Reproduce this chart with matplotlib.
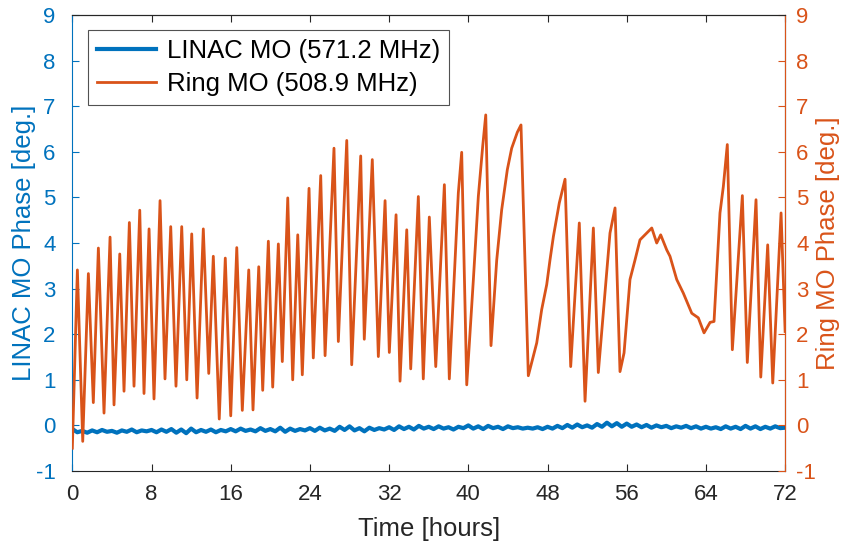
import matplotlib
matplotlib.use("Agg")
import matplotlib.pyplot as plt
import numpy as np

# ---- data ----
ring_t = [0.0, 0.51, 1.05, 1.62, 2.12, 2.63, 3.20, 3.81, 4.21, 4.79, 5.22, 5.76, 6.23, 6.81, 7.24,
          7.75, 8.25, 8.86, 9.36, 9.94, 10.47, 11.05, 11.56, 12.06, 12.60, 13.23, 13.78, 14.24,
          14.84, 15.45, 16.0, 16.61, 17.17, 17.82, 18.25, 18.83, 19.23, 19.80, 20.24, 20.81,
          21.21, 21.76, 22.26, 22.77, 23.23, 23.91, 24.34, 25.09, 25.53, 26.43, 26.87, 27.72,
          28.22, 29.13, 29.49, 30.30, 30.91, 31.59, 32.02, 32.70, 33.10, 33.78, 34.18, 34.95,
          35.45, 36.06, 36.71, 37.58, 38.08, 38.99, 39.33, 39.84, 40.51, 41.01, 41.45, 41.76,
          42.29, 42.87, 43.37, 43.94, 44.38, 44.95, 45.32, 46.06, 46.91, 47.41, 47.92, 48.25,
          48.59, 49.19, 49.77, 50.34, 51.21, 51.79, 52.63, 53.13, 54.31, 54.82, 55.32, 55.73,
          56.33, 56.84, 57.34, 58.02, 58.53, 59.03, 59.43, 60.04, 60.37, 61.05, 61.72, 62.57,
          63.23, 63.81, 64.42, 64.82, 65.42, 65.76, 66.16, 66.67, 67.68, 68.18, 69.06, 69.54,
          70.24, 70.75, 71.59, 72.0]
ring_v = [-0.50, 3.41, -0.35, 3.33, 0.50, 3.89, 0.27, 4.13, 0.45, 3.76, 0.75, 4.45, 0.86, 4.72, 0.70,
          4.31, 0.58, 4.93, 1.02, 4.36, 0.86, 4.36, 1.00, 4.20, 0.60, 4.31, 1.14, 3.71,
          0.14, 3.67, 0.21, 3.90, 0.33, 3.41, 0.34, 3.48, 0.77, 4.04, 0.84, 3.98,
          1.40, 4.99, 1.00, 4.18, 1.11, 5.20, 1.48, 5.48, 1.53, 6.08, 1.84, 6.25,
          1.33, 5.91, 1.89, 5.83, 1.51, 4.93, 1.60, 4.62, 0.97, 4.29, 1.24, 5.02,
          1.02, 4.57, 1.29, 5.28, 1.02, 5.10, 5.99, 0.89, 3.20, 5.02, 6.12, 6.81,
          1.75, 3.63, 4.73, 5.61, 6.08, 6.43, 6.59, 1.09, 1.81, 2.54, 3.09, 3.63,
          4.14, 4.88, 5.40, 1.29, 4.44, 0.53, 4.33, 1.16, 4.22, 4.77, 1.18, 1.59,
          3.20, 3.63, 4.07, 4.22, 4.33, 4.00, 4.18, 3.85, 3.71, 3.20, 2.90, 2.46,
          2.36, 2.03, 2.26, 2.28, 4.66, 5.24, 6.16, 1.66, 5.04, 1.38, 4.95, 1.06,
          3.96, 0.93, 4.66, 2.06]

linac_v = [
    -0.08, -0.15, -0.12, -0.16, -0.11, -0.15, -0.10, -0.14, -0.12, -0.16, -0.11, -0.14, -0.09, -0.15, -0.11, -0.13,
    -0.10, -0.15, -0.09, -0.14, -0.08, -0.16, -0.09, -0.17, -0.07, -0.15, -0.10, -0.14, -0.09, -0.15, -0.10, -0.13,
    -0.08, -0.13, -0.07, -0.12, -0.09, -0.13, -0.06, -0.12, -0.08, -0.13, -0.05, -0.14, -0.07, -0.12, -0.08, -0.11,
    -0.06, -0.12, -0.05, -0.11, -0.07, -0.12, -0.03, -0.10, -0.02, -0.11, -0.06, -0.13, -0.05, -0.10, -0.06, -0.09,
    -0.04, -0.10, -0.02, -0.08, -0.03, -0.09, -0.01, -0.07, -0.03, -0.08, -0.02, -0.07, -0.04, -0.09, -0.03, -0.06,
    0.00, -0.07, -0.02, -0.08, -0.01, -0.06, -0.03, -0.08, -0.02, -0.06, -0.04, -0.07, -0.05, -0.07, -0.04, -0.08,
    -0.03, -0.07, -0.01, -0.06, 0.01, -0.05, 0.02, -0.04, 0.00, -0.05, 0.03, -0.03, 0.06, -0.02, 0.05, -0.03,
    0.04, -0.03, 0.02, -0.04, 0.01, -0.05, 0.00, -0.04, -0.01, -0.06, -0.02, -0.05, -0.01, -0.06, -0.02, -0.07,
    -0.03, -0.07, -0.04, -0.08, -0.02, -0.07, -0.03, -0.08, -0.01, -0.07, -0.02, -0.08, -0.03, -0.07, -0.02, -0.06,
    -0.05]
linac_t = [0.5 * i for i in range(len(linac_v))]

x_ticks = [0, 8, 16, 24, 32, 40, 48, 56, 64, 72]
y_ticks = [-1, 0, 1, 2, 3, 4, 5, 6, 7, 8, 9]

BLUE = "#0072BD"
ORANGE = "#D95319"
DARK = "#262626"

plt.rcParams['font.family'] = ['Liberation Sans', 'DejaVu Sans']
plt.rcParams['axes.unicode_minus'] = False

fig = plt.figure(figsize=(8.52, 5.48), dpi=100)
ax = fig.add_axes([0.0849, 0.1405, 0.8366, 0.832])
ax2 = ax.twinx()

l1, = ax.plot(linac_t, linac_v, color=BLUE, lw=3.0, label="LINAC MO (571.2 MHz)")
l2, = ax2.plot(ring_t, ring_v, color=ORANGE, lw=2.0, label="Ring MO (508.9 MHz)")

for a in (ax, ax2):
    a.set_xlim(0, 72)
    a.set_ylim(-1, 9)
    a.set_yticks(y_ticks)
ax.set_xticks(x_ticks)

ax.tick_params(axis='x', direction='in', length=5, labelsize=16, colors=DARK, top=True, pad=9)
ax.tick_params(axis='y', direction='in', length=5, labelsize=16, colors=BLUE, labelcolor=BLUE, pad=12)
ax2.tick_params(axis='y', direction='in', length=5, labelsize=16, colors=ORANGE, labelcolor=ORANGE, pad=8)

ax.spines['left'].set_color(BLUE)
ax.spines['bottom'].set_color(DARK)
ax.spines['top'].set_color(DARK)
ax2.spines['right'].set_color(ORANGE)
ax2.spines['left'].set_visible(False)
ax2.spines['top'].set_color(DARK)
ax2.spines['bottom'].set_visible(False)
for a in (ax, ax2):
    for s in a.spines.values():
        s.set_linewidth(0.8)

ax.set_xlabel("Time [hours]", fontsize=18.5, color=DARK, labelpad=9)
ax.set_ylabel("LINAC MO Phase [deg.]", fontsize=18.5, color=BLUE, labelpad=0)
ax2.set_ylabel("Ring MO Phase [deg.]", fontsize=18.5, color=ORANGE, labelpad=0)

leg = ax2.legend(handles=[l1, l2], loc='upper left', bbox_to_anchor=(0.0225, 0.967),
                 borderaxespad=0, fontsize=18.5, frameon=True, fancybox=False, edgecolor=DARK,
                 handlelength=2.3, borderpad=0.35, labelspacing=0.35, handletextpad=0.4)
leg.get_frame().set_linewidth(0.8)

fig.savefig("out.png", dpi=100)
